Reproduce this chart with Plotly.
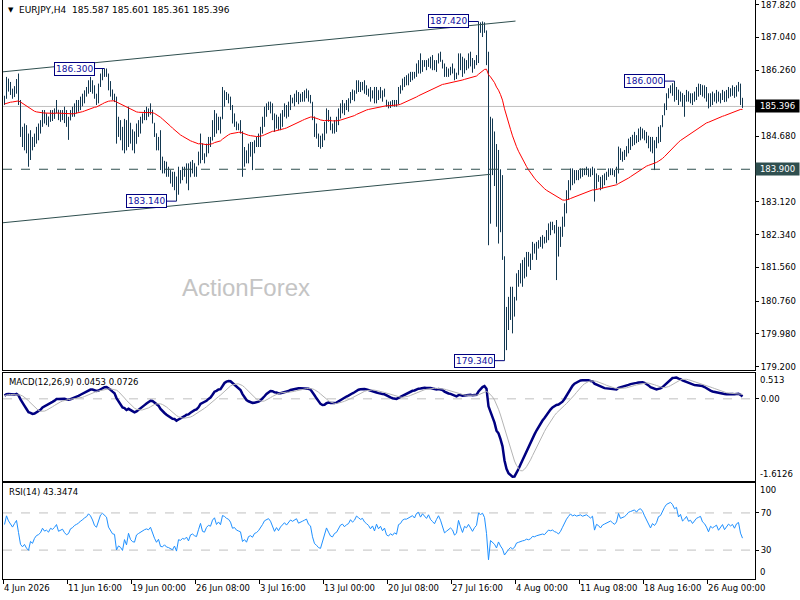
import numpy as np
import pandas as pd
import plotly.graph_objects as go
from plotly.subplots import make_subplots

# --- EURJPY H4 bars (open = previous close) ---------------------------------
first_open = 185.50

bar_high = [
    # 0-73
    185.65, 186.10, 186.06, 185.98, 185.82, 185.88, 186.05, 186.18, 185.55, 184.91,
    184.99, 184.95, 184.75, 184.83, 184.67, 184.75, 184.91, 184.99, 185.07, 185.31,
    185.31, 185.23, 185.15, 185.31, 185.31, 185.35, 185.55, 185.31, 185.31, 185.31,
    185.39, 185.31, 185.15, 185.31, 185.39, 185.47, 185.55, 185.55, 185.63, 185.70,
    185.78, 185.86, 186.02, 186.10, 186.02, 185.90, 185.70, 185.94, 186.18, 186.30,
    186.30, 186.30, 186.18, 186.00, 185.80, 185.70, 185.63, 185.15, 185.07, 184.91,
    185.10, 185.07, 185.39, 185.00, 184.85, 184.80, 184.99, 185.07, 185.15, 185.23,
    185.31, 185.39, 185.35, 185.47,
    # 74-148
    185.31, 185.00, 184.75, 184.67, 184.83, 184.20, 184.10, 184.08, 183.96, 183.88,
    183.84, 183.84, 183.72, 183.96, 183.88, 183.96, 183.96, 184.04, 184.04, 184.08,
    184.12, 184.04, 183.96, 184.32, 184.75, 184.51, 184.28, 184.51, 184.67, 184.67,
    185.07, 185.31, 185.23, 185.15, 185.15, 185.86, 185.78, 185.74, 185.70, 185.63,
    185.43, 185.23, 185.03, 184.99, 185.07, 184.80, 184.43, 184.35, 184.51, 184.55,
    184.55, 184.59, 184.67, 184.75, 184.91, 185.15, 185.39, 185.47, 185.51, 185.51,
    185.47, 185.23, 185.20, 185.15, 185.23, 185.31, 185.47, 185.43, 185.51, 185.67,
    185.60, 185.70, 185.78, 185.74, 185.70,
    # 149-241
    185.74, 185.78, 185.82, 185.78, 185.67, 185.50, 185.15, 184.99, 184.75, 184.70,
    184.75, 185.03, 185.35, 185.31, 185.15, 184.99, 185.07, 185.15, 185.35, 185.47,
    185.55, 185.47, 185.55, 185.59, 185.74, 185.80, 185.78, 186.02, 186.02, 185.98,
    185.98, 186.02, 185.90, 185.82, 185.86, 185.78, 185.86, 185.86, 185.78, 185.86,
    185.78, 185.82, 185.55, 185.51, 185.52, 185.55, 185.55, 185.55, 185.86, 185.90,
    186.06, 186.10, 186.14, 186.18, 186.22, 186.22, 186.22, 186.42, 186.50, 186.66,
    186.50, 186.50, 186.50, 186.54, 186.58, 186.62, 186.50, 186.50, 186.66, 186.70,
    186.50, 186.42, 186.34, 186.30, 186.34, 186.42, 186.30, 186.20, 186.66, 186.66,
    186.58, 186.54, 186.50, 186.66, 186.70, 186.55, 186.50, 186.62, 187.42, 187.40,
    187.42, 187.40, 187.20,
    # 242-291
    186.70, 185.15, 185.11, 184.80, 184.50, 184.36, 183.90, 183.76, 181.82, 180.62,
    180.86, 181.10, 181.10, 180.86, 181.42, 181.50, 181.66, 181.74, 181.80, 181.93,
    181.93, 181.89, 182.17, 182.13, 182.17, 182.21, 182.29, 182.33, 182.29, 182.45,
    182.61, 182.65, 182.65, 182.57, 182.69, 182.53, 182.53, 182.77, 183.09, 183.40,
    183.64, 183.92, 183.92, 183.88, 183.88, 183.88, 183.92, 183.92, 183.92, 183.96,
    # 292-369
    183.92, 183.92, 183.96, 183.92, 183.80, 183.76, 183.72, 183.76, 183.80, 183.84,
    183.92, 183.92, 183.92, 183.88, 183.96, 184.44, 184.40, 184.32, 184.36, 184.45,
    184.63, 184.67, 184.72, 184.79, 184.71, 184.87, 184.91, 184.87, 184.83, 184.79,
    184.70, 184.67, 184.67, 184.59, 184.67, 184.91, 184.95, 185.19, 185.47, 185.71,
    185.83, 185.90, 185.95, 186.00, 185.86, 185.79, 185.75, 185.71, 185.67, 185.79,
    185.75, 185.71, 185.71, 185.75, 185.86, 185.94, 185.93, 185.90, 185.90, 185.86,
    185.71, 185.71, 185.75, 185.71, 185.79, 185.75, 185.71, 185.79, 185.75, 185.79,
    185.86, 185.83, 185.90, 185.86, 185.90, 185.98, 185.94, 185.601,
]

bar_low = [
    # 0-73
    185.43, 185.58, 185.75, 185.67, 185.58, 185.62, 185.70, 185.43, 184.67, 184.43,
    184.35, 184.28, 183.96, 184.12, 184.35, 184.43, 184.51, 184.59, 184.75, 184.91,
    184.99, 184.95, 184.91, 185.03, 185.05, 185.10, 185.23, 185.07, 185.03, 185.07,
    185.00, 184.91, 184.60, 185.07, 185.15, 185.15, 185.23, 185.27, 185.31, 185.40,
    185.47, 185.63, 185.70, 185.74, 185.70, 185.58, 185.43, 185.47, 185.86, 186.02,
    186.10, 186.10, 185.78, 185.63, 185.55, 185.50, 184.51, 184.67, 184.59, 184.35,
    184.28, 184.35, 184.43, 184.51, 184.35, 184.28, 184.51, 184.67, 184.75, 184.99,
    185.07, 185.07, 185.15, 185.20,
    # 74-148
    184.99, 184.67, 184.35, 184.35, 183.88, 183.80, 183.80, 183.72, 183.72, 183.56,
    183.48, 183.40, 183.14, 183.30, 183.56, 183.64, 183.72, 183.56, 183.40, 183.72,
    183.80, 183.72, 183.72, 184.00, 184.04, 184.12, 184.04, 184.20, 184.28, 184.43,
    184.59, 184.67, 184.75, 184.83, 184.75, 185.10, 185.39, 185.55, 185.47, 185.31,
    184.99, 184.91, 184.83, 184.83, 184.75, 183.72, 183.96, 184.04, 184.04, 184.20,
    183.88, 184.28, 184.43, 184.43, 184.43, 184.75, 184.91, 185.15, 185.31, 185.23,
    185.07, 184.79, 184.87, 184.83, 184.83, 184.91, 185.15, 185.11, 185.15, 185.31,
    185.47, 185.40, 185.50, 185.45, 185.50,
    # 149-241
    185.51, 185.51, 185.59, 185.51, 185.47, 185.07, 184.67, 184.63, 184.43, 184.39,
    184.43, 184.59, 184.75, 185.03, 184.83, 184.75, 184.75, 184.79, 184.95, 185.11,
    185.23, 185.19, 185.31, 185.27, 185.47, 185.55, 185.52, 185.70, 185.74, 185.74,
    185.78, 185.70, 185.67, 185.63, 185.51, 185.59, 185.47, 185.47, 185.55, 185.59,
    185.51, 185.63, 185.39, 185.35, 185.36, 185.40, 185.39, 185.39, 185.45, 185.70,
    185.78, 185.86, 185.90, 185.90, 185.98, 186.02, 186.06, 186.10, 186.18, 186.18,
    186.22, 186.34, 186.26, 186.34, 186.30, 186.26, 186.26, 186.22, 186.42, 186.46,
    186.30, 186.10, 186.10, 186.10, 186.14, 186.18, 186.02, 186.05, 186.15, 186.26,
    186.10, 186.18, 186.26, 186.30, 186.35, 186.20, 186.30, 186.38, 186.43, 187.15,
    187.05, 187.15, 186.38,
    # 242-291
    182.09, 182.61, 183.76, 183.50, 182.53, 182.13, 182.40, 181.74, 179.34, 179.59,
    180.07, 180.31, 179.99, 180.39, 180.78, 181.10, 181.18, 181.10, 181.30, 181.34,
    181.58, 181.50, 181.74, 181.89, 181.74, 182.01, 182.05, 182.01, 182.13, 182.15,
    182.21, 182.33, 182.45, 182.37, 181.26, 181.82, 182.05, 182.29, 182.53, 182.85,
    183.17, 183.40, 183.52, 183.56, 183.64, 183.64, 183.68, 183.72, 183.76, 183.76,
    # 292-369
    183.72, 183.72, 183.76, 183.13, 183.44, 183.60, 183.40, 183.44, 183.52, 183.64,
    183.72, 183.76, 183.76, 183.72, 183.56, 183.80, 184.12, 184.08, 184.12, 184.20,
    184.28, 184.36, 184.45, 184.48, 184.52, 184.55, 184.59, 184.63, 184.59, 184.52,
    184.40, 184.32, 184.28, 183.88, 184.40, 184.52, 184.55, 184.91, 185.19, 185.31,
    185.59, 185.71, 185.65, 185.51, 185.55, 185.43, 185.51, 185.39, 185.15, 185.51,
    185.51, 185.47, 185.43, 185.51, 185.55, 185.63, 185.67, 185.63, 185.59, 185.51,
    185.35, 185.39, 185.43, 185.51, 185.47, 185.51, 185.47, 185.55, 185.50, 185.51,
    185.59, 185.63, 185.65, 185.60, 185.63, 185.75, 185.43, 185.361,
]

bar_close = [
    # 0-73
    185.60, 186.00, 185.85, 185.75, 185.65, 185.80, 185.95, 185.50, 184.80, 184.60,
    184.70, 184.40, 184.20, 184.60, 184.45, 184.70, 184.85, 184.90, 185.00, 185.25,
    185.10, 185.15, 185.05, 185.25, 185.20, 185.30, 185.45, 185.15, 185.20, 185.25,
    185.10, 185.00, 185.05, 185.25, 185.30, 185.40, 185.45, 185.50, 185.60, 185.65,
    185.75, 185.80, 185.95, 185.90, 185.80, 185.65, 185.60, 185.90, 186.15, 186.25,
    186.20, 186.15, 185.85, 185.70, 185.60, 185.58, 184.70, 184.85, 184.75, 184.50,
    184.95, 184.55, 185.20, 184.70, 184.50, 184.45, 184.90, 185.00, 185.10, 185.15,
    185.25, 185.30, 185.25, 185.40,
    # 74-148
    185.05, 184.75, 184.45, 184.60, 184.00, 183.95, 184.05, 183.85, 183.80, 183.70,
    183.60, 183.75, 183.30, 183.85, 183.80, 183.90, 183.85, 183.95, 183.70, 184.00,
    184.05, 183.95, 183.90, 184.25, 184.65, 184.20, 184.15, 184.45, 184.60, 184.55,
    185.00, 185.20, 184.85, 185.05, 184.90, 185.75, 185.70, 185.60, 185.55, 185.40,
    185.05, 185.10, 184.95, 184.90, 184.85, 184.20, 184.30, 184.10, 184.40, 184.45,
    184.35, 184.55, 184.60, 184.70, 184.85, 185.05, 185.30, 185.40, 185.45, 185.35,
    185.15, 184.90, 185.10, 184.95, 185.15, 185.25, 185.40, 185.30, 185.45, 185.60,
    185.55, 185.65, 185.70, 185.55, 185.62,
    # 149-241
    185.65, 185.70, 185.75, 185.60, 185.55, 185.15, 184.80, 184.70, 184.55, 184.50,
    184.70, 184.95, 185.30, 185.10, 184.90, 184.85, 185.00, 185.05, 185.25, 185.40,
    185.45, 185.35, 185.45, 185.50, 185.70, 185.62, 185.72, 185.95, 185.90, 185.85,
    185.90, 185.80, 185.75, 185.70, 185.60, 185.70, 185.55, 185.80, 185.65, 185.75,
    185.60, 185.70, 185.45, 185.40, 185.48, 185.42, 185.50, 185.45, 185.80, 185.85,
    186.00, 186.05, 186.05, 186.10, 186.15, 186.20, 186.15, 186.35, 186.40, 186.30,
    186.45, 186.40, 186.35, 186.50, 186.40, 186.35, 186.30, 186.45, 186.60, 186.50,
    186.35, 186.15, 186.20, 186.25, 186.30, 186.25, 186.10, 186.15, 186.60, 186.40,
    186.20, 186.45, 186.40, 186.55, 186.45, 186.30, 186.45, 186.55, 187.30, 187.25,
    187.35, 187.20, 186.45,
    # 242-291
    182.60, 184.70, 184.40, 183.90, 183.00, 183.80, 182.80, 182.00, 179.80, 180.30,
    180.60, 180.90, 180.50, 180.70, 181.30, 181.40, 181.55, 181.60, 181.65, 181.80,
    181.70, 181.80, 182.05, 182.00, 182.10, 182.15, 182.20, 182.25, 182.20, 182.40,
    182.55, 182.50, 182.55, 182.45, 182.40, 182.30, 182.45, 182.70, 183.00, 183.30,
    183.55, 183.80, 183.70, 183.80, 183.75, 183.80, 183.85, 183.80, 183.85, 183.90,
    # 292-369
    183.85, 183.80, 183.90, 183.40, 183.70, 183.65, 183.55, 183.70, 183.75, 183.80,
    183.85, 183.90, 183.85, 183.80, 183.90, 184.35, 184.20, 184.25, 184.30, 184.40,
    184.55, 184.60, 184.65, 184.70, 184.65, 184.80, 184.85, 184.80, 184.70, 184.60,
    184.50, 184.40, 184.55, 184.50, 184.60, 184.85, 184.90, 185.15, 185.40, 185.65,
    185.75, 185.85, 185.80, 185.70, 185.80, 185.55, 185.70, 185.50, 185.60, 185.75,
    185.60, 185.65, 185.55, 185.70, 185.80, 185.85, 185.90, 185.75, 185.70, 185.60,
    185.45, 185.65, 185.60, 185.65, 185.70, 185.55, 185.65, 185.75, 185.60, 185.70,
    185.80, 185.75, 185.80, 185.70, 185.85, 185.90, 185.587, 185.396,
]

# time axis: a label every 32 bars
time_tick_bars = [0, 32, 64, 96, 128, 160, 192, 224, 256, 288, 320, 352]
time_tick_text = ["4 Jun 2026", "11 Jun 16:00", "19 Jun 00:00", "26 Jun 08:00",
                  "3 Jul 16:00", "13 Jul 00:00", "20 Jul 08:00", "27 Jul 16:00",
                  "4 Aug 00:00", "11 Aug 08:00", "18 Aug 16:00", "26 Aug 00:00"]

# right price scale (183.900 and the ~185.4 level sit under the boxes)
price_tick_vals = [187.82, 187.04, 186.26, 184.68, 183.12,
                   182.34, 181.56, 180.76, 179.98, 179.20]
price_tick_text = ["187.820", "187.040", "186.260", "184.680", "183.120",
                   "182.340", "181.560", "180.760", "179.980", "179.200"]

# swing high / low labels
swing_bars = [50, 86, 237, 250, 335]
swing_prices = [186.300, 183.140, 187.420, 179.340, 186.000]
swing_text = ["186.300", "183.140", "187.420", "179.340", "186.000"]

# channel trend lines (bar index, price)
channel_upper_x = [-2, 255.5]
channel_upper_y = [186.215, 187.43]
channel_lower_x = [-2, 243]
channel_lower_y = [182.62, 183.78]

last_price = 185.396
level_price = 183.900

header_text = "EURJPY,H4  185.587 185.601 185.361 185.396"
macd_text = "MACD(12,26,9) 0.0453 0.0726"
rsi_text = "RSI(14) 43.3474"
macd_max_label, macd_min_label = 0.513, -1.6126

# indicator settings / starting states
ma_period, ma_seed = 55, 185.45
macd_fast_seed, macd_slow_seed = 185.62, 185.55
rsi_seed_gain, rsi_seed_loss = 0.06, 0.05

# --- derived series ----------------------------------------------------------
assert len(bar_high) == len(bar_low) == len(bar_close)
n = len(bar_close)
bars = np.arange(n)
close = np.array(bar_close)
high = np.array(bar_high)
low = np.array(bar_low)
prev_close = np.concatenate([[first_open], close[:-1]])
opens = np.clip(prev_close, low, high)


def ema(values, period, seed):
    k = 2.0 / (period + 1)
    out, e = [], seed
    for v in values:
        e = e + k * (v - e)
        out.append(e)
    return np.array(out)


ma = ema(close, ma_period, ma_seed)
macd_main = ema(close, 12, macd_fast_seed) - ema(close, 26, macd_slow_seed)
macd_signal = pd.Series(macd_main).rolling(9, min_periods=1).mean().values

delta = close - prev_close
avg_g, avg_l, rsi = rsi_seed_gain, rsi_seed_loss, []
for d in delta:
    avg_g = (avg_g * 13 + max(d, 0)) / 14
    avg_l = (avg_l * 13 + max(-d, 0)) / 14
    rsi.append(100 - 100 / (1 + avg_g / avg_l))

# --- colours -----------------------------------------------------------------
BAR = "#123750"
SLATE = "#2F4F4F"
NAVY = "#000080"
FONT = "DejaVu Sans"

fig = make_subplots(rows=3, cols=1, shared_xaxes=True, vertical_spacing=0.005)

# price panel
for cx, cy in [(channel_upper_x, channel_upper_y), (channel_lower_x, channel_lower_y)]:
    fig.add_trace(go.Scatter(x=cx, y=cy, mode="lines", line=dict(color=SLATE, width=1),
                             hoverinfo="skip"), row=1, col=1)

fig.add_trace(go.Ohlc(x=bars, open=opens, high=high, low=low, close=close,
                      increasing_line_color=BAR, decreasing_line_color=BAR,
                      line=dict(width=1), tickwidth=0.25), row=1, col=1)
fig.add_trace(go.Scatter(x=bars, y=ma, mode="lines", line=dict(color="#FF0000", width=1),
                         hoverinfo="skip"), row=1, col=1)

# MACD panel
fig.add_trace(go.Scatter(x=bars, y=macd_main, mode="lines", line=dict(color=NAVY, width=2.5),
                         hoverinfo="skip"), row=2, col=1)
fig.add_trace(go.Scatter(x=bars, y=macd_signal, mode="lines", line=dict(color="#B4B4B4", width=1),
                         hoverinfo="skip"), row=2, col=1)

# RSI panel
fig.add_trace(go.Scatter(x=bars, y=rsi, mode="lines", line=dict(color="#1E90FF", width=1),
                         hoverinfo="skip"), row=3, col=1)

# --- shapes ------------------------------------------------------------------
x_lo, x_hi = -0.75, 375.25
fig.add_shape(type="line", x0=x_lo, x1=x_hi, y0=last_price, y1=last_price, xref="x", yref="y",
              line=dict(color="#C0C0C0", width=1), layer="below")
fig.add_shape(type="line", x0=x_lo, x1=x_hi, y0=level_price, y1=level_price, xref="x", yref="y",
              line=dict(color=SLATE, width=1, dash="dash"))
fig.add_shape(type="line", x0=x_lo, x1=x_hi, y0=0, y1=0, xref="x2", yref="y2",
              line=dict(color="#C0C0C0", width=1, dash="dash"), layer="below")
for lvl in [70, 30]:
    fig.add_shape(type="line", x0=x_lo, x1=x_hi, y0=lvl, y1=lvl, xref="x3", yref="y3",
                  line=dict(color="#C0C0C0", width=1, dash="dash"), layer="below")

gap = 5
for b, p, t in zip(swing_bars, swing_prices, swing_text):
    fig.add_shape(type="line", x0=b - gap, x1=b, y0=p, y1=p, xref="x", yref="y",
                  line=dict(color=NAVY, width=1))
    fig.add_annotation(x=b - gap, y=p, xref="x", yref="y", text=t, showarrow=False,
                       xanchor="right", yanchor="middle", bgcolor="white",
                       bordercolor=NAVY, borderwidth=1, borderpad=1,
                       font=dict(family=FONT, size=9, color="#1010A0"))

# --- text annotations --------------------------------------------------------
fig.add_annotation(x=0.004, y=1, xref="paper", yref="y domain", yshift=-4,
                   text="▼", showarrow=False, xanchor="left", yanchor="top",
                   font=dict(family=FONT, size=7, color="black"))
fig.add_annotation(x=0.019, y=1, xref="paper", yref="y domain", yshift=-3,
                   text=header_text, showarrow=False, xanchor="left", yanchor="top",
                   font=dict(family=FONT, size=9, color="black"))
fig.add_annotation(x=0.005, y=1, xref="paper", yref="y2 domain", yshift=-2,
                   text=macd_text, showarrow=False, xanchor="left", yanchor="top",
                   font=dict(family=FONT, size=8.5, color="black"))
fig.add_annotation(x=0.005, y=1, xref="paper", yref="y3 domain", yshift=-2,
                   text=rsi_text, showarrow=False, xanchor="left", yanchor="top",
                   font=dict(family=FONT, size=8.5, color="black"))
fig.add_annotation(x=0.323, y=0.504, xref="paper", yref="paper", text="ActionForex",
                   showarrow=False, xanchor="center", yanchor="middle",
                   font=dict(family="Liberation Sans", size=24, color="#C4C4C4"))

# right-side boxes
for val, bg in [(last_price, "black"), (level_price, SLATE)]:
    fig.add_annotation(x=1, y=val, xref="paper", yref="y", text=f"{val:.3f}", showarrow=False,
                       xanchor="left", yanchor="middle", xshift=0, bgcolor=bg, borderpad=1,
                       width=41, align="center",
                       font=dict(family=FONT, size=8.5, color="white"))

# edge labels of the indicator windows
for txt, yr, yv, ya in [(f"{macd_max_label:.3f}", "y2 domain", 1, "top"),
                        (f"{macd_min_label:.4f}", "y2 domain", 0, "bottom"),
                        ("100", "y3 domain", 1, "top"),
                        ("0", "y3 domain", 0, "bottom")]:
    fig.add_annotation(x=1, y=yv, xref="paper", yref=yr, text=txt, showarrow=False,
                       xanchor="left", yanchor=ya, xshift=3,
                       font=dict(family=FONT, size=8.5, color="black"))

for b, t in zip(time_tick_bars, time_tick_text):
    fig.add_annotation(x=b - 0.5, y=0, xref="x3", yref="paper", text=t, showarrow=False,
                       xanchor="left", yanchor="top", xshift=-2, yshift=-2,
                       font=dict(family=FONT, size=8.5, color="black"))

# --- axes / layout -----------------------------------------------------------
fig.update_xaxes(range=[x_lo, x_hi], showgrid=False, zeroline=False, showline=True,
                 linecolor="black", linewidth=1, mirror=True, ticks="",
                 rangeslider_visible=False, fixedrange=True, automargin=False,
                 showticklabels=False)
fig.update_xaxes(row=3, col=1, tickmode="array",
                 tickvals=[b - 0.5 for b in time_tick_bars],
                 ticks="outside", ticklen=4, tickcolor="black")

fig.update_yaxes(side="right", showgrid=False, zeroline=False, showline=True,
                 linecolor="black", linewidth=1, mirror=True, ticks="outside",
                 ticklen=3, tickcolor="black", automargin=False, fixedrange=True,
                 ticklabeloverflow="allow",
                 tickfont=dict(family=FONT, size=8.5, color="black"))
fig.update_yaxes(row=1, col=1, range=[179.118, 187.932], tickmode="array",
                 tickvals=price_tick_vals, ticktext=price_tick_text)
fig.update_yaxes(row=2, col=1, range=[macd_min_label, macd_max_label], tickmode="array",
                 tickvals=[0], ticktext=["0.00"])
fig.update_yaxes(row=3, col=1, range=[-1.1, 102.5], tickmode="array",
                 tickvals=[70, 30], ticktext=["70", "30"])

fig.update_layout(
    width=800, height=600,
    margin=dict(l=3, r=45, t=0, b=21),
    paper_bgcolor="white", plot_bgcolor="white",
    showlegend=False,
    font=dict(family=FONT, size=8.5, color="black"),
    yaxis=dict(domain=[0.361, 1.0]),
    yaxis2=dict(domain=[0.1693, 0.3563]),
    yaxis3=dict(domain=[0.0, 0.1663]),
)

# the page body has a default 8px margin; drop it so the chart fills the window
fig.write_html("out.html", config={"displayModeBar": False},
               post_script="document.body.style.margin='0';")
